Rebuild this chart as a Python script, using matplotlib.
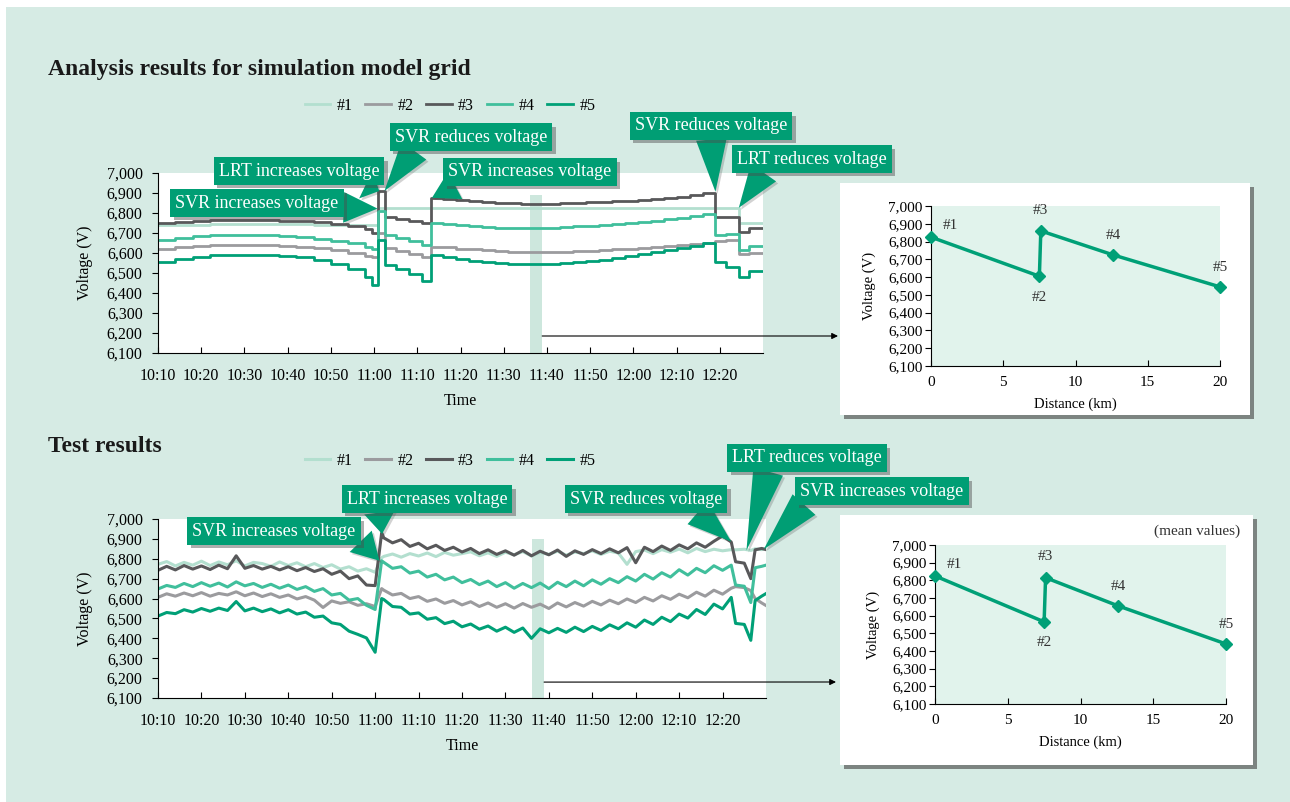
import numpy as np
import matplotlib
matplotlib.use("Agg")
import matplotlib.pyplot as plt
import matplotlib.patheffects as pe
from matplotlib.patches import Rectangle
from matplotlib.ticker import FuncFormatter

plt.rcParams['font.family'] = ['Liberation Serif', 'DejaVu Serif']

W, H = 1290, 802

# ---- data ----
series_names = ['#1', '#2', '#3', '#4', '#5']
series_colors = ['#b3dfcf', '#9b9b9e', '#58585a', '#40bf9c', '#00a077']

time_ticks = [0, 10, 20, 30, 40, 50, 60, 70, 80, 90, 100, 110, 120, 130]   # minutes after 10:10
time_labels = ['10:10', '10:20', '10:30', '10:40', '10:50', '11:00', '11:10',
               '11:20', '11:30', '11:40', '11:50', '12:00', '12:10', '12:20']

# simulation (step-like)
t_sim = [0, 4, 8, 12, 16, 20, 24, 28, 32, 36, 40, 44, 48, 49.5, 51, 52.5, 55, 58, 61,
         63.2, 66, 69, 72, 75, 78, 81, 84, 87, 90, 93, 96, 99, 102, 105, 108, 111, 114,
         117, 120, 123, 126, 129, 131.5, 134.4, 136.7, 140]
sim_1 = [6738, 6740, 6742, 6744, 6745, 6745, 6745, 6744, 6743, 6742, 6740, 6740, 6738, 6738,
         6825, 6825, 6825, 6825, 6825, 6825, 6825, 6825, 6825, 6825, 6825, 6825, 6825, 6825,
         6825, 6825, 6825, 6825, 6825, 6825, 6825, 6825, 6825, 6825, 6825, 6825, 6825, 6825,
         6825, 6750, 6750, 6750]
sim_2 = [6620, 6628, 6635, 6640, 6640, 6640, 6638, 6635, 6630, 6624, 6614, 6600, 6585, 6578,
         6700, 6625, 6610, 6595, 6578, 6632, 6628, 6622, 6618, 6614, 6610, 6607, 6605, 6604,
         6605, 6606, 6608, 6611, 6614, 6618, 6622, 6626, 6630, 6635, 6640, 6646, 6652, 6660,
         6665, 6595, 6600, 6600]
sim_3 = [6750, 6755, 6760, 6765, 6765, 6765, 6765, 6762, 6760, 6755, 6745, 6735, 6718, 6700,
         6910, 6782, 6772, 6762, 6750, 6875, 6872, 6867, 6862, 6857, 6852, 6848, 6846, 6846,
         6847, 6849, 6851, 6854, 6857, 6860, 6862, 6865, 6869, 6874, 6880, 6888, 6900, 6780,
         6782, 6705, 6725, 6725]
sim_4 = [6665, 6675, 6685, 6688, 6690, 6690, 6688, 6685, 6680, 6672, 6660, 6648, 6632, 6618,
         6810, 6690, 6675, 6660, 6640, 6750, 6745, 6740, 6735, 6730, 6727, 6725, 6724, 6724,
         6726, 6729, 6733, 6737, 6741, 6746, 6751, 6756, 6762, 6769, 6776, 6784, 6795, 6690,
         6694, 6615, 6635, 6635]
sim_5 = [6557, 6570, 6580, 6588, 6590, 6590, 6588, 6585, 6578, 6565, 6545, 6518, 6480, 6440,
         6665, 6540, 6520, 6495, 6460, 6590, 6580, 6570, 6562, 6555, 6550, 6546, 6545, 6545,
         6547, 6550, 6555, 6560, 6567, 6575, 6584, 6594, 6604, 6614, 6624, 6635, 6648, 6555,
         6530, 6480, 6510, 6510]

# test (measured)
t_test = list(range(0, 51, 2)) + [51.5] + list(range(52, 133, 2)) + [133, 135, 136.5, 137.5, 139, 140]
test_1 = [6772, 6786, 6764, 6782, 6768, 6788, 6766, 6784, 6770, 6790, 6764, 6782, 6776, 6762,
          6784, 6766, 6780, 6760, 6776, 6756, 6770, 6748, 6760, 6738, 6750, 6732,
          6805,
          6812, 6824, 6808, 6826, 6814, 6829, 6811, 6832, 6818, 6826, 6835, 6815, 6830, 6812,
          6833, 6820, 6836, 6814, 6831, 6822, 6838, 6818, 6834, 6826, 6840, 6822, 6838, 6829,
          6772, 6836, 6844, 6826, 6846, 6833, 6849, 6830, 6852, 6836, 6848, 6840, 6846,
          6845, 6848, 6842, 6850, 6846, 6852]
test_2 = [6606, 6624, 6612, 6628, 6614, 6630, 6612, 6626, 6618, 6634, 6614, 6628, 6610, 6624,
          6606, 6618, 6598, 6610, 6592, 6555, 6588, 6576, 6584, 6566, 6574, 6560,
          6650,
          6642, 6618, 6626, 6600, 6610, 6586, 6598, 6576, 6590, 6568, 6584, 6560, 6578, 6556,
          6574, 6552, 6575, 6556, 6572, 6550, 6578, 6558, 6580, 6562, 6586, 6568, 6592, 6574,
          6598, 6580, 6606, 6588, 6614, 6596, 6622, 6604, 6632, 6612, 6642, 6622, 6652,
          6660, 6655, 6640, 6600, 6578, 6565]
test_3 = [6742, 6762, 6744, 6766, 6748, 6764, 6746, 6768, 6750, 6815, 6752, 6766, 6748, 6762,
          6744, 6760, 6740, 6756, 6736, 6750, 6722, 6738, 6700, 6714, 6668, 6665,
          6930,
          6905, 6880, 6896, 6862, 6878, 6850, 6868, 6842, 6858, 6834, 6852, 6826, 6845, 6822,
          6840, 6818, 6842, 6815, 6838, 6820, 6844, 6812, 6840, 6822, 6846, 6826, 6850, 6830,
          6856, 6780, 6858, 6836, 6864, 6842, 6870, 6850, 6880, 6858, 6888, 6915, 6884,
          6785, 6778, 6700, 6845, 6852, 6846]
test_4 = [6648, 6666, 6656, 6676, 6660, 6680, 6662, 6678, 6658, 6684, 6664, 6676, 6656, 6672,
          6652, 6668, 6646, 6660, 6636, 6650, 6618, 6626, 6592, 6600, 6566, 6545,
          6790,
          6782, 6752, 6760, 6728, 6738, 6708, 6722, 6694, 6708, 6680, 6696, 6670, 6688, 6660,
          6680, 6652, 6676, 6655, 6678, 6650, 6682, 6660, 6688, 6664, 6694, 6672, 6700, 6680,
          6710, 6688, 6722, 6698, 6730, 6708, 6745, 6718, 6752, 6730, 6765, 6742, 6768,
          6668, 6662, 6580, 6755, 6762, 6768]
test_5 = [6512, 6530, 6524, 6544, 6532, 6550, 6536, 6552, 6540, 6585, 6538, 6552, 6534, 6548,
          6528, 6544, 6522, 6532, 6506, 6512, 6478, 6470, 6436, 6420, 6402, 6330,
          6600,
          6595, 6560, 6556, 6522, 6528, 6496, 6504, 6474, 6486, 6458, 6472, 6446, 6462, 6436,
          6456, 6430, 6452, 6400, 6448, 6428, 6450, 6430, 6456, 6434, 6460, 6440, 6468, 6448,
          6478, 6456, 6492, 6470, 6506, 6484, 6522, 6502, 6545, 6520, 6572, 6548, 6606,
          6475, 6470, 6390, 6590, 6612, 6625]

# voltage profile at 11:37
dist_km = [0, 7.5, 7.6, 12.6, 20]
profile_sim = [6825, 6605, 6860, 6725, 6545]
profile_test = [6825, 6565, 6815, 6655, 6440]
profile_labels = ['#1', '#2', '#3', '#4', '#5']

BG = '#d6ebe4'
CALL = '#009e74'
shadow = [pe.withSimplePatchShadow(offset=(2.5, -2.5), shadow_rgbFace='0.3', alpha=0.45)]
wedge_shadow = [pe.withSimplePatchShadow(offset=(1.5, -1.5), shadow_rgbFace='0.3', alpha=0.25)]

fig = plt.figure(figsize=(W / 100, H / 100), dpi=100)
fig.patch.set_facecolor('white')
fig.patches.append(Rectangle((6 / W, 0), 1, (H - 7) / H, transform=fig.transFigure,
                             fc=BG, ec='none', zorder=-10))


def px(x, y):
    # image pixel (top-left origin) -> figure fraction
    return x / W, (H - y) / H


def box(x0, y0, x1, y1):
    r = Rectangle(px(x0, y1), (x1 - x0) / W, (y1 - y0) / H, transform=fig.transFigure,
                  fc='white', ec='none', zorder=-5)
    r.set_path_effects([pe.withSimplePatchShadow(offset=(3, -3), shadow_rgbFace='0.25',
                                                 alpha=0.6)])
    fig.patches.append(r)


vfmt = FuncFormatter(lambda v, p: f'{int(v):,}')


def style_main(ax):
    ax.set_xlim(0, 140)
    ax.set_ylim(6100, 7000)
    ax.set_yticks(np.arange(6100, 7001, 100))
    ax.yaxis.set_major_formatter(vfmt)
    ax.set_xticks(time_ticks)
    ax.set_xticklabels(time_labels)
    ax.spines['top'].set_visible(False)
    ax.spines['right'].set_visible(False)
    ax.tick_params(axis='x', direction='in', length=4, labelsize=11.5, pad=11)
    ax.tick_params(axis='y', direction='out', length=4, labelsize=11.5, pad=7)
    ax.set_ylabel('Voltage (V)', fontsize=11.5, labelpad=10)
    ax.set_xlabel('Time', fontsize=11.5, labelpad=6)


def style_inset(ax):
    ax.set_facecolor('#e1f3ec')
    ax.set_xlim(0, 20)
    ax.set_ylim(6100, 7000)
    ax.set_yticks(np.arange(6100, 7001, 100))
    ax.yaxis.set_major_formatter(vfmt)
    ax.set_xticks([0, 5, 10, 15, 20])
    ax.spines['top'].set_visible(False)
    ax.spines['right'].set_visible(False)
    ax.tick_params(axis='x', direction='in', length=4, labelsize=11, pad=7)
    ax.tick_params(axis='y', direction='out', length=4, labelsize=11, pad=2)
    ax.set_ylabel('Voltage (V)', fontsize=10.5, labelpad=9)
    ax.set_xlabel('Distance (km)', fontsize=10.5, labelpad=6)


def callout(ax, text, xy, cx, cy, rel):
    ann = ax.annotate(text, xy=xy, xycoords='data', xytext=(cx, H - cy),
                      textcoords='figure pixels', ha='center', va='center',
                      fontsize=13, color='white', zorder=10, annotation_clip=False,
                      bbox=dict(boxstyle='square,pad=0.28', fc=CALL, ec='none'),
                      arrowprops=dict(arrowstyle='wedge,tail_width=1.7', fc=CALL, ec='none',
                                      relpos=rel, shrinkA=0, shrinkB=0))
    ann.get_bbox_patch().set_path_effects(shadow)
    ann.arrow_patch.set_path_effects(wedge_shadow)


def profile(ax, vals):
    ax.plot(dist_km, vals, color='#00a077', lw=2.5, marker='D', ms=6, zorder=3, clip_on=False)
    offs = [(14, 8), (0, -15), (0, 15), (0, 14), (0, 14)]
    for x, v, lab, o in zip(dist_km, vals, profile_labels, offs):
        ax.annotate(lab, (x, v), xytext=o, textcoords='offset points', ha='center',
                    va='center', fontsize=11, color='#333333')


# ---- titles ----
fig.text(*px(48, 70), 'Analysis results for simulation model grid', fontsize=17,
         fontweight='bold', va='center', color='#1a1a1a')
fig.text(*px(48, 447), 'Test results', fontsize=17, fontweight='bold', va='center',
         color='#1a1a1a')

# ---- top: simulation ----
ax1 = fig.add_axes([158 / W, (H - 353) / H, (763 - 158) / W, 180 / H])
style_main(ax1)
ax1.axvspan(86.1, 88.9, ymax=0.878, color='#cde7dd', lw=0, zorder=0)
sim_all = [sim_1, sim_2, sim_3, sim_4, sim_5]
lines = []
for vals, c, n in zip(sim_all, series_colors, series_names):
    ln, = ax1.plot(t_sim, vals, drawstyle='steps-post', color=c, lw=2, label=n)
    lines.append(ln)
fig.legend(handles=lines, loc='center', bbox_to_anchor=px(450, 106), ncol=5, frameon=False,
           fontsize=11.5, handlelength=1.6, handletextpad=0.4, columnspacing=0.8)

callout(ax1, 'SVR increases voltage', (50.8, 6822), 257, 203, (1, 0.25))
callout(ax1, 'LRT increases voltage', (51.2, 6910), 299, 171, (0.85, 0))
callout(ax1, 'SVR reduces voltage', (52.4, 6910), 471, 137, (0.15, 0))
callout(ax1, 'SVR increases voltage', (63.4, 6876), 530, 172, (0.1, 0))
callout(ax1, 'SVR reduces voltage', (129, 6906), 711, 126, (0.5, 0))
callout(ax1, 'LRT reduces voltage', (134.4, 6826), 812, 159, (0.2, 0))

box(840, 183, 1250, 415)
in1 = fig.add_axes([931 / W, (H - 366) / H, (1220 - 931) / W, 160 / H])
style_inset(in1)
profile(in1, profile_sim)
ax1.annotate('', xy=(838, H - 336), xycoords='figure pixels', xytext=(88.9, 6185),
             textcoords='data', annotation_clip=False,
             arrowprops=dict(arrowstyle='-|>', color='black', lw=0.8, shrinkA=0, shrinkB=0,
                             mutation_scale=9))

# ---- bottom: test ----
ax2 = fig.add_axes([158 / W, (H - 698) / H, (766 - 158) / W, 179 / H])
style_main(ax2)
ax2.axvspan(86.1, 88.9, ymax=0.889, color='#cde7dd', lw=0, zorder=0)
test_all = [test_1, test_2, test_3, test_4, test_5]
lines2 = []
for vals, c, n in zip(test_all, series_colors, series_names):
    ln, = ax2.plot(t_test, vals, color=c, lw=2.2, label=n)
    lines2.append(ln)
fig.legend(handles=lines2, loc='center', bbox_to_anchor=px(450, 461), ncol=5, frameon=False,
           fontsize=11.5, handlelength=1.6, handletextpad=0.4, columnspacing=0.8)

callout(ax2, 'SVR increases voltage', (51, 6790), 274, 531, (1, 0.2))
callout(ax2, 'LRT increases voltage', (51.6, 6925), 427, 499, (0.2, 0))
callout(ax2, 'SVR reduces voltage', (132, 6886), 646, 499, (0.8, 0))
callout(ax2, 'LRT reduces voltage', (135.5, 6842), 807, 458, (0.25, 0))
callout(ax2, 'SVR increases voltage', (139.5, 6848), 882, 491, (0.05, 0))

box(840, 515, 1253, 765)
in2 = fig.add_axes([935 / W, (H - 704) / H, (1226 - 935) / W, 159 / H])
style_inset(in2)
profile(in2, profile_test)
fig.text(*px(1197, 531), '(mean values)', fontsize=11, ha='center', va='center',
         color='#333333')
ax2.annotate('', xy=(836, H - 682), xycoords='figure pixels', xytext=(88.9, 6180),
             textcoords='data', annotation_clip=False,
             arrowprops=dict(arrowstyle='-|>', color='black', lw=0.8, shrinkA=0, shrinkB=0,
                             mutation_scale=9))

fig.savefig('out.png', dpi=100, facecolor=fig.get_facecolor())
